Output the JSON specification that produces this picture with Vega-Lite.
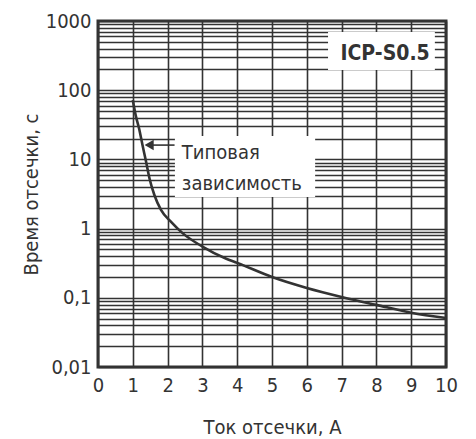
{
  "$schema": "https://vega.github.io/schema/vega-lite/v6.json",
  "width": 348,
  "height": 346,
  "autosize": "none",
  "padding": {"left": 98, "top": 21, "right": 30, "bottom": 72},
  "background": "white",
  "config": {
    "font": "DejaVu Sans Condensed, Roboto, sans-serif",
    "view": {"stroke": "#333", "strokeWidth": 3},
    "axis": {
      "grid": true,
      "gridColor": "#333",
      "gridWidth": 1.6,
      "gridOpacity": 1,
      "domain": false,
      "ticks": false,
      "labelFontSize": 20,
      "labelColor": "#333",
      "titleFontSize": 20,
      "titleFontWeight": "normal",
      "titleColor": "#333",
      "labelOverlap": false
    }
  },
  "resolve": {"axis": {"x": "independent", "y": "independent"}},
  "datasets": {
    "curve": [
      {"current": 1.0, "time": 72},
      {"current": 1.08, "time": 44},
      {"current": 1.18, "time": 28},
      {"current": 1.28, "time": 16},
      {"current": 1.38, "time": 9.3},
      {"current": 1.48, "time": 5.3},
      {"current": 1.62, "time": 3.06},
      {"current": 1.81, "time": 1.86},
      {"current": 2.1, "time": 1.25},
      {"current": 2.43, "time": 0.86},
      {"current": 3.0, "time": 0.55},
      {"current": 3.67, "time": 0.37},
      {"current": 4.0, "time": 0.32},
      {"current": 5.0, "time": 0.2},
      {"current": 6.0, "time": 0.139},
      {"current": 7.0, "time": 0.103},
      {"current": 8.0, "time": 0.079},
      {"current": 9.0, "time": 0.061},
      {"current": 10.0, "time": 0.051}
    ],
    "boxes": [
      {"x1": 2.21, "x2": 6.24, "y1": 2.87, "y2": 21.8},
      {"x1": 6.61, "x2": 9.68, "y1": 196, "y2": 693}
    ],
    "arrow": [{"x1": 1.47, "x2": 2.2, "y": 16.1}],
    "arrowhead": [{"x": 1.47, "y": 16.1}],
    "notes": [
      {"x": 2.41, "y": 10, "label": "Типовая"},
      {"x": 2.41, "y": 3.6, "label": "зависимость"}
    ],
    "model": [{"x": 8.25, "y": 273, "label": "ICP-S0.5"}]
  },
  "layer": [
    {
      "data": {"name": "curve"},
      "mark": {"type": "line", "color": "#333", "strokeWidth": 2.6, "interpolate": "monotone"},
      "encoding": {
        "x": {
          "field": "current", "type": "quantitative",
          "scale": {"domain": [0, 10], "nice": false, "zero": false},
          "axis": {"values": [0,1,2,3,4,5,6,7,8,9,10], "title": "Ток отсечки, А", "labelPadding": 8, "titlePadding": 22, "labelFlush": false, "labelOverlap": false}
        },
        "y": {
          "field": "time", "type": "quantitative",
          "scale": {"type": "log", "domain": [0.01, 1000], "nice": false},
          "axis": {
            "title": "Время отсечки, с",
            "labelPadding": 7,
            "titlePadding": 4,
            "labelOverlap": false,
            "values": [0.01,0.02,0.03,0.04,0.05,0.06,0.07,0.08,0.09,0.1,0.2,0.3,0.4,0.5,0.6,0.7,0.8,0.9,1,2,3,4,5,6,7,8,9,10,20,30,40,50,60,70,80,90,100,200,300,400,500,600,700,800,900,1000],
            "labelExpr": "(datum.value == 0.01 || datum.value == 0.1 || datum.value == 1 || datum.value == 10 || datum.value == 100 || datum.value == 1000) ? replace(toString(datum.value), '.', ',') : ''"
          }
        }
      }
    },
    {
      "data": {"name": "boxes"},
      "mark": {"type": "rect", "fill": "white", "stroke": null},
      "encoding": {
        "x": {"field": "x1", "type": "quantitative", "axis": null},
        "x2": {"field": "x2"},
        "y": {"field": "y1", "type": "quantitative", "axis": null},
        "y2": {"field": "y2"}
      }
    },
    {
      "data": {"name": "arrow"},
      "mark": {"type": "rule", "color": "#333", "strokeWidth": 1.6},
      "encoding": {
        "x": {"field": "x1", "type": "quantitative", "axis": null},
        "x2": {"field": "x2"},
        "y": {"field": "y", "type": "quantitative", "axis": null}
      }
    },
    {
      "data": {"name": "arrowhead"},
      "mark": {"type": "point", "shape": "triangle-left", "filled": true, "color": "#333", "opacity": 1, "size": 110},
      "encoding": {
        "x": {"field": "x", "type": "quantitative", "axis": null},
        "y": {"field": "y", "type": "quantitative", "axis": null}
      }
    },
    {
      "data": {"name": "notes"},
      "mark": {"type": "text", "align": "left", "baseline": "alphabetic", "fontSize": 20, "color": "#333"},
      "encoding": {
        "x": {"field": "x", "type": "quantitative", "axis": null},
        "y": {"field": "y", "type": "quantitative", "axis": null},
        "text": {"field": "label"}
      }
    },
    {
      "data": {"name": "model"},
      "mark": {"type": "text", "align": "center", "baseline": "alphabetic", "fontSize": 21, "fontWeight": "bold", "color": "#333"},
      "encoding": {
        "x": {"field": "x", "type": "quantitative", "axis": null},
        "y": {"field": "y", "type": "quantitative", "axis": null},
        "text": {"field": "label"}
      }
    }
  ]
}
